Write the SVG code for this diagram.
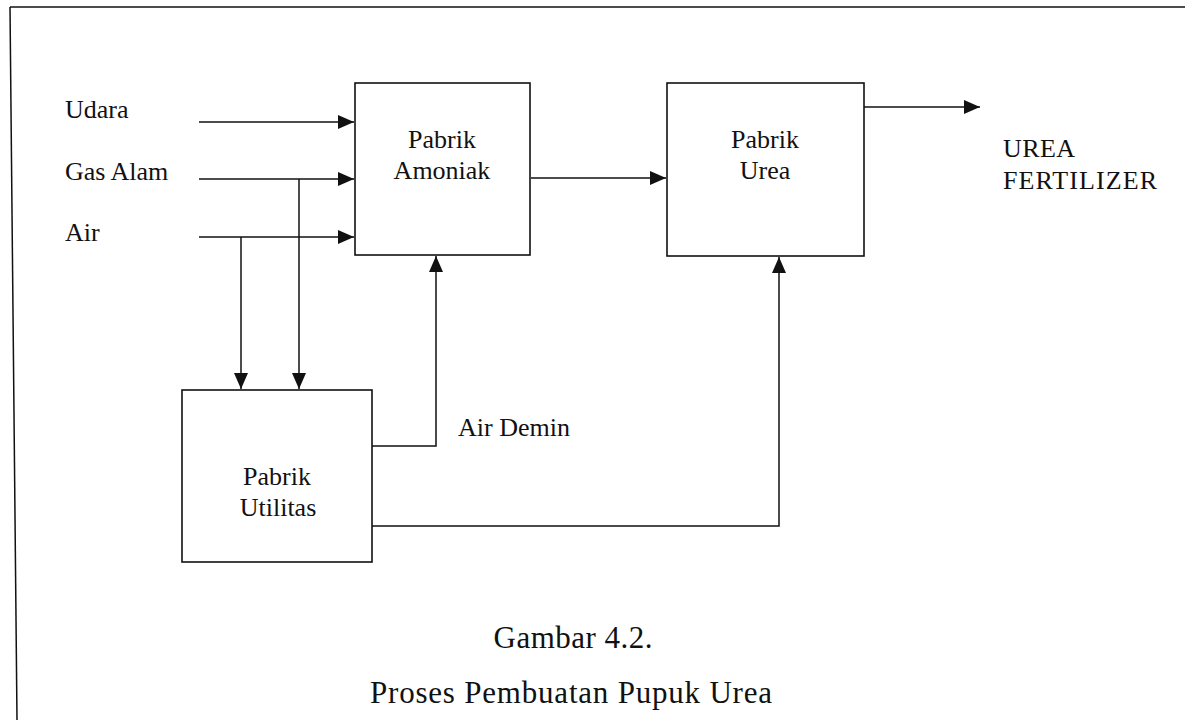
<svg xmlns="http://www.w3.org/2000/svg" width="1185" height="720" viewBox="0 0 1185 720">
<style>
.box{fill:#fff;stroke:#111;stroke-width:1.6}
.ln{fill:none;stroke:#111;stroke-width:1.5}
.arr{marker-end:url(#ah)}
text{font-family:"Liberation Serif","Times New Roman",serif;fill:#111;font-size:26px}
.c{text-anchor:middle}
.cap{font-size:31px;text-anchor:middle}
</style>
<defs>
<marker id="ah" markerUnits="userSpaceOnUse" markerWidth="16" markerHeight="14" refX="16" refY="7" orient="auto">
<path d="M0,0 L16,7 L0,14 z" fill="#111"/>
</marker>
</defs>
<rect width="1185" height="720" fill="#fff"/>
<g id="frame">
<line class="ln" x1="10" y1="7" x2="1185" y2="7"/>
<line class="ln" x1="10" y1="7" x2="17" y2="720"/>
</g>
<g id="connectors">
<line class="ln arr" x1="199" y1="122" x2="354" y2="122"/>
<line class="ln arr" x1="199" y1="179" x2="354" y2="179"/>
<line class="ln arr" x1="199" y1="237" x2="354" y2="237"/>
<line class="ln arr" x1="241" y1="237" x2="241" y2="389"/>
<line class="ln arr" x1="299" y1="179" x2="299" y2="389"/>
<line class="ln arr" x1="531" y1="178" x2="666" y2="178"/>
<line class="ln arr" x1="864" y1="107" x2="980" y2="107"/>
<polyline class="ln arr" points="372,446 436,446 436,256"/>
<polyline class="ln arr" points="372,526 779,526 779,257"/>
</g>
<g id="inputs">
<text x="65" y="118">Udara</text>
<text x="65" y="180">Gas Alam</text>
<text x="65" y="241">Air</text>
</g>
<g id="amoniak">
<rect class="box" x="355" y="83" width="175" height="172"/>
<text class="c" x="442" y="148">Pabrik</text>
<text class="c" x="442" y="179">Amoniak</text>
</g>
<g id="urea">
<rect class="box" x="667" y="83" width="197" height="173"/>
<text class="c" x="765" y="148">Pabrik</text>
<text class="c" x="765" y="179">Urea</text>
</g>
<g id="output">
<text x="1003" y="157" textLength="72">UREA</text>
<text x="1003" y="189" textLength="154">FERTILIZER</text>
</g>
<g id="utilitas">
<rect class="box" x="182" y="390" width="190" height="172"/>
<text class="c" x="277" y="485">Pabrik</text>
<text class="c" x="278" y="516">Utilitas</text>
</g>
<g id="label-airdemin">
<text x="458" y="436">Air Demin</text>
</g>
<g id="caption">
<text class="cap" x="573" y="648" textLength="159">Gambar 4.2.</text>
<text class="cap" x="571" y="703" textLength="402">Proses Pembuatan Pupuk Urea</text>
</g>
</svg>
